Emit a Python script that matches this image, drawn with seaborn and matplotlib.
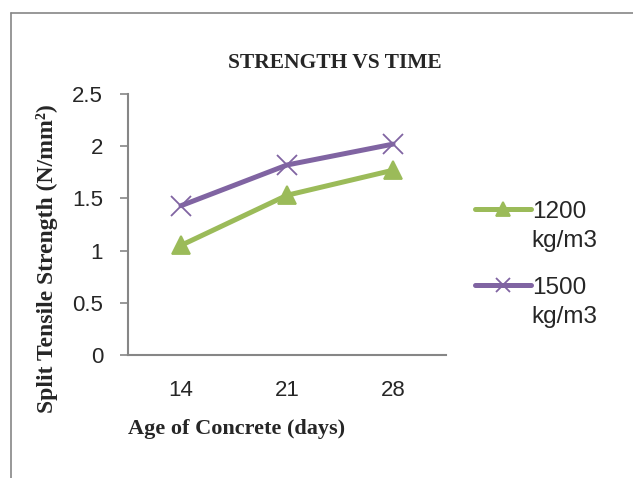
import pandas as pd
import matplotlib
matplotlib.use("Agg")
import matplotlib.pyplot as plt
from matplotlib.lines import Line2D
import seaborn as sns

# data
ages = ["14", "21", "28"]
strength_1200 = [1.05, 1.53, 1.77]
strength_1500 = [1.43, 1.82, 2.02]
series_labels = ["1200\nkg/m3", "1500\nkg/m3"]

sns.set_style("white")
plt.rcParams["font.family"] = ["Liberation Sans", "DejaVu Sans"]

fig = plt.figure(figsize=(6.33, 4.78), dpi=100)
ax = fig.add_axes([128 / 633, 1 - 355 / 478, 318 / 633, 261 / 478])

series = [
    (strength_1200, series_labels[0], "#9BBB59", "^", 13),
    (strength_1500, series_labels[1], "#8064A2", "x", 14),
]
for values, label, color, marker, msize in series:
    d = pd.DataFrame({"Age": ages, "Strength": values})
    sns.lineplot(data=d, x="Age", y="Strength", color=color, marker=marker,
                 linewidth=3.6, markersize=msize, markeredgewidth=1.3,
                 markeredgecolor=color, label=label, sort=False, ax=ax)

for line in ax.get_lines():
    line.set_solid_capstyle("round")

ax.set_xlim(-0.5, 2.5)
ax.set_ylim(0, 2.5)
ax.set_yticks([0, 0.5, 1, 1.5, 2, 2.5])
ax.set_yticklabels(["0", "0.5", "1", "1.5", "2", "2.5"])
ax.tick_params(axis="y", direction="out", length=6, width=1.2, color="#868686",
               labelsize=16, pad=12, left=True)
ax.tick_params(axis="x", length=0, labelsize=16, pad=18)

for side in ["top", "right"]:
    ax.spines[side].set_visible(False)
for side in ["left", "bottom"]:
    ax.spines[side].set_color("#868686")
    ax.spines[side].set_linewidth(1.5)

ax.set_xlabel("Age of Concrete (days)", family="Liberation Serif",
              fontweight="bold", fontsize=16)
ax.set_ylabel("Split Tensile Strength (N/mm²)", family="Liberation Serif",
              fontweight="bold", fontsize=17)
# Excel placed both axis titles off-centre
ax.xaxis.set_label_coords((237 - 128) / 318, -(419 - 355) / 261)
ax.yaxis.set_label_coords(-(128 - 58) / 318, (355 - 259) / 261)
fig.text(335 / 633, 1 - 63 / 478, "STRENGTH VS TIME", family="Liberation Serif",
         fontweight="bold", fontsize=15.5, ha="center", va="center")

leg = ax.legend(loc="upper left", bbox_to_anchor=(465 / 633, 1 - 191 / 478),
                bbox_transform=fig.transFigure, frameon=False, fontsize=17.5,
                handlelength=2.3, handletextpad=0.05, labelspacing=1.0,
                borderaxespad=0)
for t in leg.get_texts():
    t.set_linespacing(1.45)
for h in leg.legend_handles:
    h.set_linewidth(3.6)
    h.set_solid_capstyle("round")
    h.set_markersize(10)
# put each handle next to the first line of its label
for col in leg._legend_handle_box.get_children():
    for row in col.get_children():
        row.align = "top"

# outer chart frame (clipped at right/bottom like the reference)
fig.add_artist(Line2D([11 / 633, 11 / 633], [0, 1 - 13 / 478], color="#868686",
                      linewidth=1.2, transform=fig.transFigure))
fig.add_artist(Line2D([11 / 633, 1], [1 - 13 / 478, 1 - 13 / 478], color="#868686",
                      linewidth=1.2, transform=fig.transFigure))

fig.savefig("out.png", dpi=100)
